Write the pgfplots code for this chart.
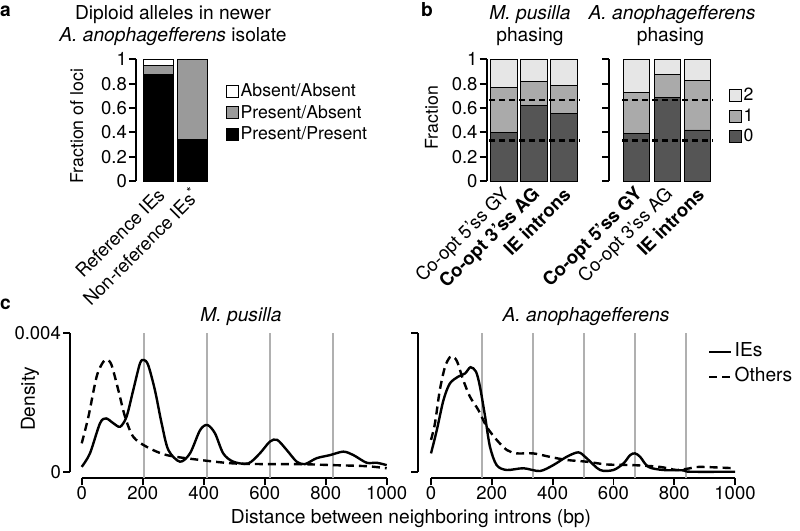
\documentclass[border=0pt]{standalone}
\usepackage{fontspec}
\setmainfont{TeX Gyre Heros}
\usepackage{pgfplots}
\pgfplotsset{compat=1.18}
\definecolor{pagray}{HTML}{9A9A9A}
\definecolor{bzero}{HTML}{555555}
\definecolor{bone}{HTML}{AAAAAA}
\definecolor{btwo}{HTML}{E6E6E6}
\definecolor{vgray}{HTML}{B0B0B0}
\newcommand{\F}{\fontsize{19.2}{22}\selectfont}
\newcommand{\Ft}{\fontsize{18.5}{21}\selectfont}
\newcommand{\Fs}{\fontsize{17.7}{20}\selectfont}
\pgfplotsset{
  sq/.style={legend image code/.code={\draw[##1, line width=0.8pt] (0pt,-5.5pt) rectangle (12pt,6.5pt);}},
  ln/.style={legend image code/.code={\draw[##1] (0pt,0pt) -- (22pt,0pt);}},
  barax/.style={
    scale only axis, font=\F, ybar stacked, ymin=0, ymax=1, height=121.7pt,
    enlargelimits=false, clip=false,
    axis y line*=left, axis x line*=bottom,
    x axis line style={draw=none},
    y axis line style={line width=1.8pt},
    ytick={0,0.2,0.4,0.6,0.8,1},
    tick align=outside, major tick length=7pt,
    ytick style={line width=1.8pt, black},
    xtick style={draw=none},
    xtick=data,
    xticklabel style={xshift=4pt, yshift=-3pt, rotate=45, anchor=east, inner sep=1pt, font=\Ft},
    yticklabel style={font=\Ft, inner sep=2pt},
    legend style={draw=none, fill=none, font=\Fs, anchor=north west, row sep=0pt, inner sep=0pt,
        nodes={inner sep=2pt, text height=13.5pt, text depth=3.8pt}},
    legend cell align=left, reverse legend,
  },
  ovl/.style={scale only axis, hide axis, ymin=0, ymax=1, height=121.7pt, clip=false},
  dax/.style={scale only axis, font=\F, width=316.7pt, height=145pt, xmax=1000,
    ymin=-0.00019, ymax=0.004, clip=false,
    axis x line*=bottom, axis y line*=left,
    y axis line style={shorten <=6.6pt, line width=1.8pt},
    xtick={0,200,400,600,800,1000}, xticklabels={0,200,400,600,800,1000},
    ytick={0,0.004}, scaled y ticks=false,
    tick align=outside, major tick length=7pt,
    tick style={line width=1.8pt, black},
    xticklabel style={inner sep=1pt, font=\Ft},
    yticklabel style={inner sep=2pt, font=\Ft},
    legend style={draw=none, fill=none, font=\F, anchor=north west, row sep=0pt, inner sep=0pt,
        nodes={inner sep=2pt, text height=15pt, text depth=6pt}},
    legend cell align=left,
  },
  vl/.style={vgray, line width=2pt, forget plot},
  crv/.style={black, line width=2.4pt, smooth, ln},
}
\begin{document}
\begin{tikzpicture}
\useasboundingbox (0pt,0pt) rectangle (800pt,530pt);

% ---------------- panel a ----------------
\begin{axis}[barax, at={(136pt,349pt)}, anchor=south west, width=74pt, xmin=136, xmax=210, bar width=30,
  yticklabels={0,0.2,0.4,0.6,0.8,1},
  xticklabels={Reference IEs, Non-reference IEs\textsuperscript{*}},
  ylabel={Fraction of loci}, ylabel style={at={(axis description cs:-0.80,0.45)}, anchor=center, font=\Fs},
  legend style={at={(1.21,0.82)}}]
\addplot[sq, fill=black, draw=black, line width=0.8pt] coordinates {(158,0.879) (192,0.345)};
\addplot[sq, fill=pagray, draw=black, line width=0.8pt] coordinates {(158,0.068) (192,0.655)};
\addplot[sq, fill=white, draw=black, line width=0.8pt] coordinates {(158,0.053) (192,0)};
\legend{Present/Present, Present/Absent, Absent/Absent}
\end{axis}

% ---------------- panel b left ----------------
\begin{axis}[barax, at={(486.7pt,349pt)}, anchor=south west, width=93.3pt, xmin=486.7, xmax=580, bar width=26.5,
  yticklabels={0,0.2,0.4,0.6,0.8,1},
  xticklabels={Co-opt 5’ss GY, \textbf{Co-opt 3’ss AG}, \textbf{IE introns}},
  ylabel={Fraction}, ylabel style={at={(axis description cs:-0.59,0.52)}, anchor=center, font=\Fs}]
\addplot[fill=bzero, draw=black, line width=0.6pt] coordinates {(504,0.40) (534,0.62) (564,0.556)};
\addplot[fill=bone, draw=black, line width=0.6pt] coordinates {(504,0.37) (534,0.20) (564,0.23)};
\addplot[fill=btwo, draw=black, line width=0.6pt] coordinates {(504,0.23) (534,0.18) (564,0.214)};
\end{axis}
\begin{axis}[ovl, at={(486.7pt,349pt)}, anchor=south west, width=93.3pt, xmin=486.7, xmax=580]
\addplot[black, line width=2.2pt, dash pattern=on 6pt off 4pt] coordinates {(489,0.3333) (580,0.3333)};
\addplot[black, line width=2.2pt, dash pattern=on 6pt off 4pt] coordinates {(489,0.6667) (580,0.6667)};
\end{axis}

% ---------------- panel b right ----------------
\begin{axis}[barax, at={(609.3pt,349pt)}, anchor=south west, width=103.7pt, xmin=609.3, xmax=713, bar width=26,
  yticklabels={,,,,,},
  xticklabels={\textbf{Co-opt 5’ss GY}, Co-opt 3’ss AG, \textbf{IE introns}},
  legend style={at={(1.15,0.785)}, nodes={inner sep=2pt, text height=13pt, text depth=3.5pt}}]
\addplot[sq, fill=bzero, draw=black, line width=0.6pt] coordinates {(636.5,0.39) (667,0.69) (697.5,0.42)};
\addplot[sq, fill=bone, draw=black, line width=0.6pt] coordinates {(636.5,0.34) (667,0.183) (697.5,0.404)};
\addplot[sq, fill=btwo, draw=black, line width=0.6pt] coordinates {(636.5,0.27) (667,0.127) (697.5,0.176)};
\legend{0,1,2}
\end{axis}
\begin{axis}[ovl, at={(609.3pt,349pt)}, anchor=south west, width=103.7pt, xmin=609.3, xmax=713]
\addplot[black, line width=2.2pt, dash pattern=on 6pt off 4pt] coordinates {(622,0.3333) (713,0.3333)};
\addplot[black, line width=2.2pt, dash pattern=on 6pt off 4pt] coordinates {(622,0.6667) (713,0.6667)};
\end{axis}

% ---------------- panel c left ----------------
\begin{axis}[dax, at={(70pt,51.7pt)}, anchor=south west, xmin=-38.4,
  x axis line style={shorten <=11.7pt, line width=1.8pt},
  yticklabels={0,0.004},
  ylabel={Density}, ylabel style={at={(axis description cs:-0.126,0.547)}, anchor=center, font=\F}]
\addplot[vl] coordinates {(205,-0.00019) (205,0.004)};
\addplot[vl] coordinates {(412,-0.00019) (412,0.004)};
\addplot[vl] coordinates {(617,-0.00019) (617,0.004)};
\addplot[vl] coordinates {(823,-0.00019) (823,0.004)};
\addplot[crv] coordinates {(0,0.00014) (27,0.00053) (60,0.00140) (80,0.00154) (104,0.00140) (126,0.00130) (147,0.00159) (169,0.00236) (191,0.00313) (204,0.00323) (218,0.00308) (240,0.00236) (262,0.00140) (284,0.00063) (322,0.00029) (355,0.00053) (388,0.00120) (412,0.00135) (437,0.00111) (464,0.00053) (497,0.00029) (546,0.00024) (584,0.00053) (617,0.00087) (641,0.00092) (672,0.00063) (705,0.00029) (732,0.00022) (770,0.00039) (814,0.00048) (858,0.00058) (891,0.00048) (934,0.00026) (967,0.00026) (1000,0.00019)};
\addplot[crv, dash pattern=on 8pt off 5pt] coordinates {(0,0.00082) (22,0.00159) (49,0.00275) (71,0.00318) (84,0.00323) (98,0.00308) (120,0.00236) (142,0.00159) (169,0.00101) (213,0.00072) (279,0.00048) (388,0.00034) (497,0.00024) (606,0.00022) (715,0.00022) (825,0.00019) (934,0.00016) (1000,0.00010)};
\end{axis}

% ---------------- panel c right ----------------
\begin{axis}[dax, at={(418.3pt,51.7pt)}, anchor=south west, xmin=-41.8,
  x axis line style={shorten <=12.7pt, line width=1.8pt},
  yticklabels={,},
  legend style={at={(0.915,0.959)}}]
\addplot[vl] coordinates {(168,-0.00019) (168,0.004)};
\addplot[vl] coordinates {(336,-0.00019) (336,0.004)};
\addplot[vl] coordinates {(504,-0.00019) (504,0.004)};
\addplot[vl] coordinates {(672,-0.00019) (672,0.004)};
\addplot[vl] coordinates {(840,-0.00019) (840,0.004)};
\addplot[crv] coordinates {(0,0.00053) (19,0.00120) (41,0.00207) (62,0.00255) (90,0.00275) (112,0.00284) (130,0.00302) (148,0.00289) (161,0.00246) (178,0.00159) (194,0.00072) (216,0.00019) (249,0.00005) (304,0.00010) (358,0.00002) (402,0.00019) (446,0.00043) (485,0.00056) (512,0.00039) (556,0.00005) (600,0.00005) (633,0.00024) (655,0.00048) (671,0.00053) (688,0.00043) (715,0.00014) (764,0.00005) (830,0.00004) (852,0.00000) (1000,0.00000)};
\addplot[crv, dash pattern=on 8pt off 5pt] coordinates {(0,0.00092) (13,0.00140) (29,0.00236) (46,0.00303) (62,0.00331) (73,0.00332) (86,0.00318) (106,0.00265) (128,0.00217) (156,0.00178) (183,0.00130) (216,0.00092) (249,0.00063) (282,0.00053) (336,0.00053) (391,0.00043) (446,0.00034) (512,0.00029) (578,0.00021) (666,0.00019) (753,0.00014) (808,0.00005) (852,0.00010) (885,0.00014) (1000,0.00010)};
\legend{IEs, Others}
\end{axis}

% ---------------- texts ----------------
\node[anchor=base west, inner sep=0pt, font=\F\bfseries] at (0pt,513.3pt) {a};
\node[anchor=base, inner sep=0pt, font=\F] at (173pt,510pt) {Diploid alleles in newer};
\node[anchor=base, inner sep=0pt, font=\F] at (173pt,488pt) {\textit{A. anophagefferens} isolate};
\node[anchor=base west, inner sep=0pt, font=\F\bfseries] at (421pt,513.3pt) {b};
\node[anchor=base, inner sep=0pt, font=\F] at (530pt,510pt) {\textit{M. pusilla}};
\node[anchor=base, inner sep=0pt, font=\F] at (530pt,488.5pt) {phasing};
\node[anchor=base, inner sep=0pt, font=\F] at (672pt,510pt) {\textit{A. anophagefferens}};
\node[anchor=base, inner sep=0pt, font=\F] at (670.5pt,488.5pt) {phasing};
\node[anchor=base west, inner sep=0pt, font=\F\bfseries] at (0pt,220pt) {c};
\node[anchor=base, inner sep=0pt, font=\F] at (241pt,208.3pt) {\textit{M. pusilla}};
\node[anchor=base, inner sep=0pt, font=\F] at (586pt,208.3pt) {\textit{A. anophagefferens}};
\node[anchor=base, inner sep=0pt, font=\F] at (411pt,7pt) {Distance between neighboring introns (bp)};
\end{tikzpicture}
\end{document}
